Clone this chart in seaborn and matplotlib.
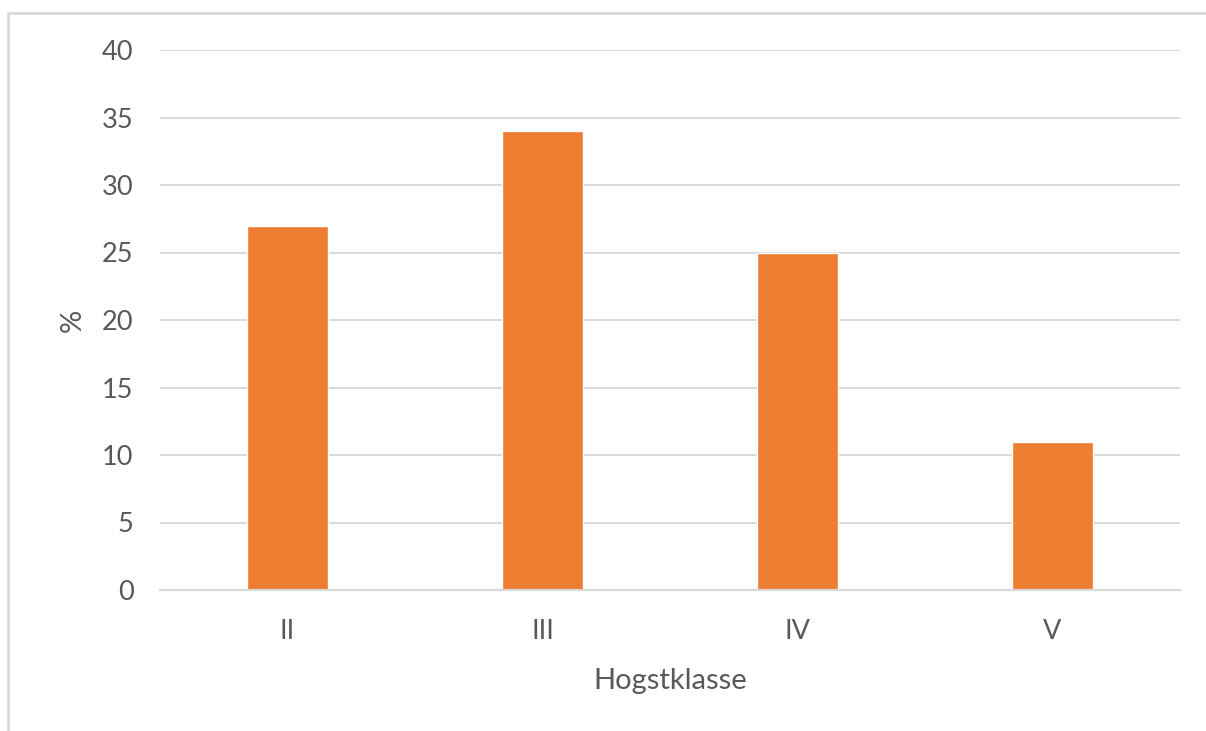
import matplotlib
matplotlib.use("Agg")
import matplotlib.pyplot as plt
from matplotlib.lines import Line2D
import seaborn as sns
import pandas as pd

# Share of stands per felling class
categories = ["II", "III", "IV", "V"]
values = [27, 34, 25, 11]
y_ticks = [0, 5, 10, 15, 20, 25, 30, 35, 40]

sns.set_theme(style="white")
plt.rcParams["font.family"] = ["Lato", "DejaVu Sans"]

text_color = "#595959"
grid_color = "#D9D9D9"
bar_color = "#ED7D31"

df = pd.DataFrame({"klasse": categories, "pct": values})

fig = plt.figure(figsize=(12.06, 7.31), dpi=100)
ax = fig.add_axes([160 / 1206, 1 - 590 / 731, 1020 / 1206, 540 / 731])

sns.barplot(data=df, x="klasse", y="pct", color=bar_color, width=0.314,
            saturation=1, ax=ax, zorder=3)

ax.set_xlim(-0.5, 3.5)
ax.set_ylim(0, 40)
ax.set_yticks(y_ticks)
ax.yaxis.grid(True, color=grid_color, linewidth=1.4, zorder=0)
ax.xaxis.grid(False)
for s in ["top", "right", "left"]:
    ax.spines[s].set_visible(False)
ax.spines["bottom"].set_color(grid_color)
ax.spines["bottom"].set_linewidth(1.6)
ax.spines["bottom"].set_zorder(4)

ax.tick_params(axis="y", length=0, pad=19, labelsize=19.5, labelcolor=text_color)
ax.tick_params(axis="x", length=0, pad=21, labelsize=19.5, labelcolor=text_color)

ax.set_xlabel("Hogstklasse", fontsize=21, color=text_color, labelpad=17)
ax.set_ylabel("%", fontsize=21, color=text_color, labelpad=12)

# Outer chart frame (top and left edges)
fig.add_artist(Line2D([8 / 1206, 1.0], [1 - 13 / 731, 1 - 13 / 731],
                      transform=fig.transFigure, color=grid_color, linewidth=2))
fig.add_artist(Line2D([8 / 1206, 8 / 1206], [0.0, 1 - 13 / 731],
                      transform=fig.transFigure, color=grid_color, linewidth=2))

fig.savefig("out.png", dpi=100, facecolor="white")
